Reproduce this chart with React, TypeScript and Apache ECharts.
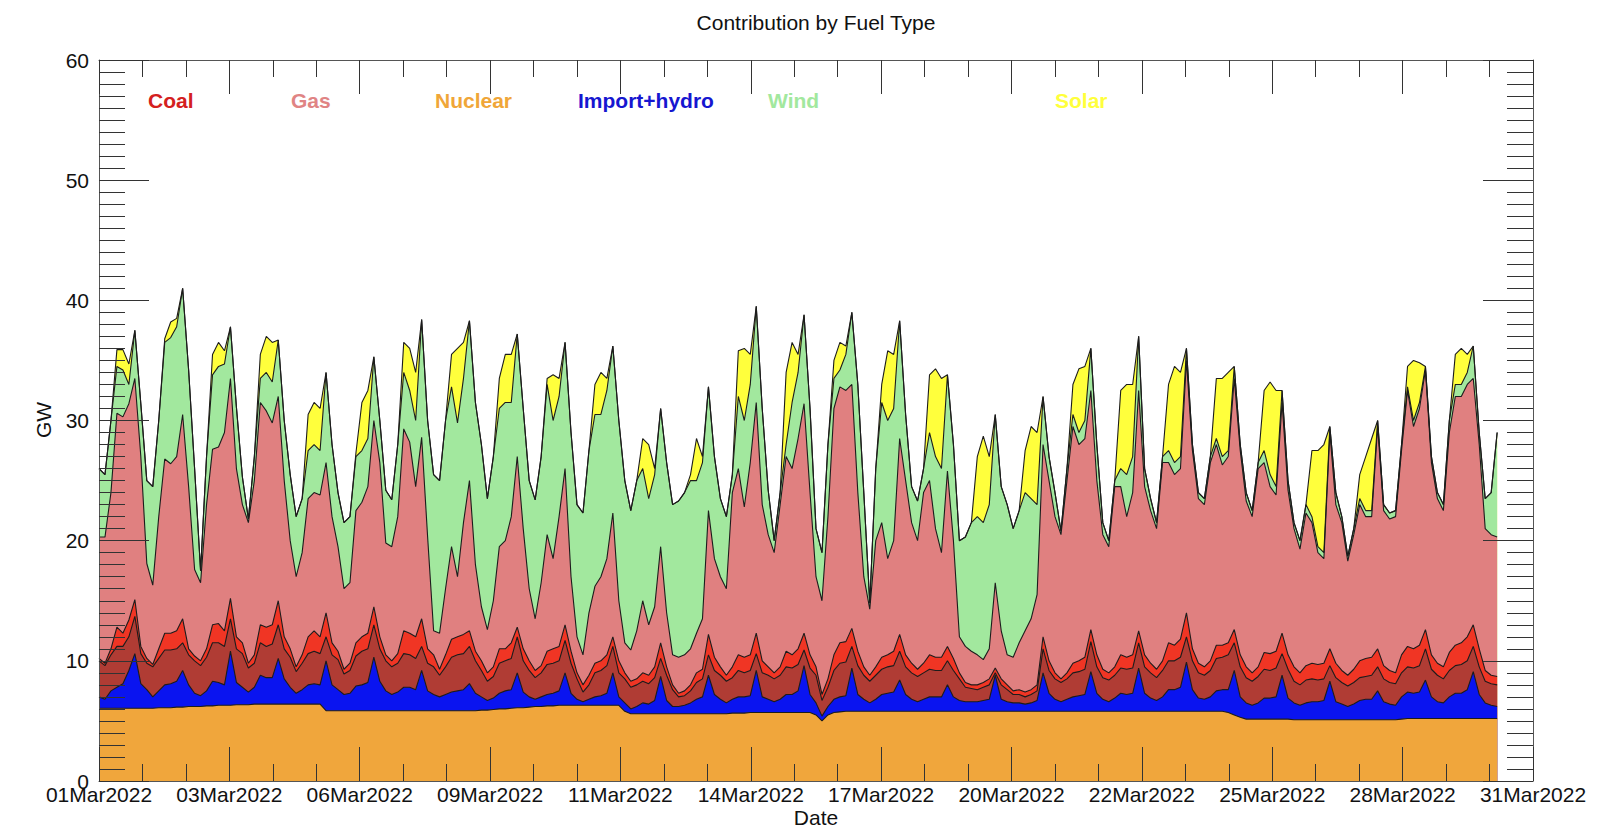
import { useEffect, useRef } from "react";
import * as echarts from "echarts";

// samples every 3 hours from 01Mar2022 00:00 (x in days)
const STEP_DAYS = 0.125;

// cumulative tops of each layer, GW (one row = one day, 00h..21h)
const nuclearTop = [
  6.05, 6.05, 6.05, 6.05, 6.05, 6.05, 6.05, 6.05,
  6.05, 6.05, 6.1, 6.1, 6.1, 6.15, 6.15, 6.2,
  6.2, 6.2, 6.25, 6.25, 6.3, 6.3, 6.3, 6.35,
  6.35, 6.35, 6.4, 6.4, 6.4, 6.4, 6.4, 6.4,
  6.4, 6.4, 6.4, 6.4, 6.4, 6.4, 5.85, 5.85,
  5.85, 5.85, 5.85, 5.85, 5.85, 5.85, 5.85, 5.85,
  5.85, 5.85, 5.85, 5.85, 5.85, 5.85, 5.85, 5.85,
  5.85, 5.85, 5.85, 5.85, 5.85, 5.85, 5.85, 5.85,
  5.9, 5.9, 5.95, 6.0, 6.0, 6.05, 6.1, 6.1,
  6.15, 6.2, 6.2, 6.25, 6.25, 6.3, 6.3, 6.3,
  6.3, 6.3, 6.3, 6.3, 6.3, 6.3, 6.3, 6.3,
  5.8, 5.6, 5.6, 5.6, 5.6, 5.6, 5.6, 5.6,
  5.6, 5.6, 5.6, 5.6, 5.6, 5.6, 5.6, 5.6,
  5.6, 5.6, 5.65, 5.65, 5.65, 5.7, 5.7, 5.7,
  5.7, 5.7, 5.7, 5.7, 5.7, 5.7, 5.7, 5.7,
  5.5, 5.0, 5.5, 5.7, 5.75, 5.8, 5.8, 5.8,
  5.8, 5.8, 5.8, 5.8, 5.8, 5.8, 5.8, 5.8,
  5.8, 5.8, 5.8, 5.8, 5.8, 5.8, 5.8, 5.8,
  5.8, 5.8, 5.8, 5.8, 5.8, 5.8, 5.8, 5.8,
  5.8, 5.8, 5.8, 5.8, 5.8, 5.8, 5.8, 5.8,
  5.8, 5.8, 5.8, 5.8, 5.8, 5.8, 5.8, 5.8,
  5.8, 5.8, 5.8, 5.8, 5.8, 5.8, 5.8, 5.8,
  5.8, 5.8, 5.8, 5.8, 5.8, 5.8, 5.8, 5.8,
  5.8, 5.8, 5.8, 5.8, 5.8, 5.7, 5.5, 5.3,
  5.15, 5.15, 5.15, 5.15, 5.15, 5.15, 5.15, 5.15,
  5.1, 5.1, 5.1, 5.1, 5.1, 5.1, 5.1, 5.1,
  5.1, 5.1, 5.1, 5.1, 5.1, 5.1, 5.1, 5.1,
  5.1, 5.1, 5.15, 5.2, 5.2, 5.2, 5.2, 5.2,
  5.2, 5.2, 5.2, 5.2, 5.2, 5.2, 5.2, 5.2,
  5.2, 5.2, 5.2,
];

const importTop = [
  7.0, 6.8, 7.5, 7.8, 8.1, 9.2, 10.6, 8.1,
  7.6, 7.0, 7.5, 8.0, 8.1, 8.3, 9.2, 8.0,
  7.3, 7.1, 7.5, 8.3, 8.2, 8.0, 10.8, 8.2,
  7.8, 7.4, 7.8, 8.8, 8.6, 8.6, 10.2, 8.5,
  7.8, 7.3, 7.6, 8.0, 8.1, 8.0, 10.0, 8.0,
  7.6, 7.2, 7.3, 7.9, 8.0, 8.2, 10.3, 8.3,
  7.5, 7.2, 7.4, 7.8, 7.8, 7.6, 9.2, 7.5,
  7.2, 7.0, 7.2, 7.4, 7.5, 7.6, 8.1, 7.3,
  7.0, 6.7, 6.9, 7.3, 7.5, 7.6, 9.0, 7.4,
  7.0, 6.8, 7.0, 7.2, 7.3, 7.5, 9.0, 7.3,
  6.8, 6.6, 6.8, 7.0, 7.1, 7.3, 9.0, 7.0,
  6.5, 6.0, 6.2, 6.5, 6.4, 6.7, 8.7, 6.7,
  6.2, 6.2, 6.3, 6.5, 6.8, 7.0, 8.8, 7.2,
  6.8, 6.5, 6.8, 7.0, 7.0, 7.1, 9.2, 7.0,
  6.8, 6.6, 6.8, 7.2, 7.2, 7.5, 9.6, 7.2,
  6.5, 5.4, 6.2, 6.8, 7.0, 7.1, 9.4, 7.2,
  6.8, 6.5, 6.8, 7.2, 7.3, 7.4, 8.4, 7.2,
  6.8, 6.6, 6.8, 7.0, 7.0, 7.0, 8.0, 7.0,
  6.7, 6.6, 6.6, 6.6, 6.7, 6.8, 8.8, 6.8,
  6.6, 6.5, 6.5, 6.4, 6.5, 6.7, 9.0, 7.3,
  6.8, 6.6, 6.8, 7.0, 7.1, 7.2, 9.1, 7.3,
  6.8, 6.6, 6.9, 7.3, 7.2, 7.3, 9.4, 7.3,
  6.9, 6.7, 7.0, 7.6, 7.6, 7.8, 9.9, 7.6,
  6.9, 6.8, 7.0, 7.5, 7.6, 7.6, 9.2, 7.0,
  6.5, 6.3, 6.5, 6.9, 6.9, 7.0, 8.8, 6.9,
  6.5, 6.3, 6.5, 6.6, 6.6, 6.7, 8.3, 6.6,
  6.4, 6.2, 6.4, 6.7, 6.8, 6.8, 7.5, 6.6,
  6.4, 6.3, 7.0, 7.4, 7.3, 7.4, 8.4, 7.0,
  6.6, 6.5, 7.0, 7.3, 7.3, 7.6, 9.1, 7.2,
  6.5, 6.3, 6.2,
];

const biomassTop = [
  10.0, 9.6, 10.5, 11.2, 11.2, 12.0, 13.7, 10.6,
  9.8, 9.5, 10.2, 10.9, 10.9, 11.0, 11.5, 10.5,
  10.0, 9.6, 10.3, 11.5, 11.5, 11.2, 13.5, 11.0,
  10.6, 9.4, 9.8, 11.5, 11.2, 11.4, 13.0, 11.0,
  10.3, 9.1, 9.8, 10.6, 10.8, 10.6, 12.0, 10.5,
  10.1, 8.9, 9.2, 10.4, 10.8, 11.0, 13.0, 11.0,
  10.0, 9.5, 9.8, 10.6, 10.5, 10.2, 11.2, 9.8,
  9.5, 8.8, 9.5, 10.3, 10.5, 10.6, 11.2, 10.0,
  9.2, 8.3, 8.7, 9.8, 10.0, 10.2, 12.0, 10.0,
  9.2, 8.6, 9.0, 9.7, 9.8, 10.0, 11.7, 9.8,
  8.5, 7.4, 8.0, 9.0, 9.2, 9.6, 11.2, 9.0,
  8.5, 7.8, 8.0, 8.3, 8.1, 8.6, 10.2, 8.8,
  7.6, 7.0, 7.1, 7.5, 8.2, 8.5, 10.5, 9.2,
  8.8, 8.3, 8.6, 9.2, 9.0, 9.2, 10.6, 9.0,
  8.8, 8.5, 8.8, 9.5, 9.4, 9.7, 10.9, 9.4,
  8.8, 6.7, 7.8, 9.2, 9.8, 9.9, 11.2, 9.6,
  8.8, 8.3, 8.8, 9.3, 9.5, 9.6, 10.8, 9.5,
  9.0, 8.7, 9.0, 9.3, 9.2, 9.2, 10.0, 9.2,
  8.5, 7.8, 7.7, 7.6, 7.8, 8.0, 9.0, 8.0,
  7.6, 7.2, 7.2, 7.0, 7.2, 7.5, 11.0, 9.2,
  8.5, 8.2, 8.5, 9.0, 9.1, 9.3, 11.6, 9.5,
  8.6, 8.4, 8.8, 9.4, 9.3, 9.4, 11.5, 9.5,
  9.0, 8.6, 9.2, 10.0, 10.0, 10.3, 12.0, 10.0,
  9.0, 8.8, 9.2, 10.2, 10.3, 10.5, 11.5, 9.5,
  8.6, 8.3, 8.7, 9.3, 9.2, 9.4, 10.6, 9.3,
  8.3, 8.0, 8.4, 8.5, 8.4, 8.5, 9.6, 8.6,
  8.2, 7.9, 8.2, 8.6, 8.7, 8.8, 9.5, 8.5,
  8.2, 8.1, 9.0, 9.5, 9.4, 9.6, 11.0, 9.3,
  8.8, 8.5, 9.2, 9.6, 9.7, 10.0, 11.2, 9.5,
  8.3, 8.1, 8.0,
];

const coalTop = [
  10.2, 9.8, 11.0, 12.8, 12.3, 13.4, 15.1, 11.2,
  10.2, 9.7, 11.0, 12.3, 12.3, 12.5, 13.5, 11.0,
  10.4, 10.0, 11.0, 13.0, 13.1, 12.5, 15.2, 12.0,
  11.5, 9.8, 10.5, 13.0, 12.8, 13.0, 15.0, 12.0,
  11.0, 9.5, 10.5, 12.0, 12.5, 12.0, 14.0, 11.5,
  10.8, 9.3, 9.8, 11.5, 12.0, 12.3, 14.5, 12.0,
  10.5, 10.0, 10.6, 12.5, 12.3, 12.0, 13.5, 11.0,
  10.5, 9.3, 10.5, 11.8, 12.0, 12.2, 12.5, 10.8,
  10.0, 9.0, 9.5, 11.0, 11.0, 11.5, 12.8, 11.0,
  10.0, 9.2, 9.6, 10.8, 11.0, 11.2, 13.0, 10.8,
  9.0, 8.0, 8.8, 9.8, 10.0, 10.5, 12.0, 10.0,
  9.0, 8.3, 8.5, 9.0, 8.8, 9.5, 11.5, 9.5,
  8.0, 7.3, 7.5, 8.0, 9.0, 9.3, 12.2, 10.3,
  9.5, 8.8, 9.5, 10.5, 10.3, 10.5, 12.3, 10.0,
  9.5, 9.0, 9.5, 10.8, 10.5, 11.0, 12.3, 10.5,
  9.5, 7.2, 8.5, 10.5, 11.5, 11.6, 12.7, 10.8,
  9.5, 8.8, 9.5, 10.3, 10.5, 10.8, 12.2, 10.5,
  9.8, 9.3, 9.8, 10.5, 10.3, 10.3, 11.2, 10.2,
  9.0, 8.2, 8.0, 8.0, 8.2, 8.5, 9.4, 8.5,
  8.0, 7.5, 7.6, 7.4, 7.6, 8.0, 12.0, 10.0,
  9.0, 8.5, 9.0, 9.8, 10.0, 10.3, 12.6, 10.5,
  9.3, 9.0, 9.5, 10.5, 10.3, 10.5, 12.5, 10.5,
  9.8, 9.3, 10.0, 11.5, 11.3, 11.8, 14.0, 11.0,
  9.8, 9.5, 10.0, 11.3, 11.3, 11.5, 12.6, 10.5,
  9.5, 9.0, 9.5, 10.7, 10.6, 10.8, 12.3, 10.5,
  9.5, 9.0, 9.6, 9.8, 9.7, 9.8, 11.0, 9.8,
  9.2, 8.8, 9.3, 10.0, 10.2, 10.3, 11.0, 9.6,
  9.2, 9.0, 10.5, 11.2, 11.0, 11.3, 12.6, 10.5,
  9.8, 9.5, 10.7, 11.3, 11.5, 12.0, 13.0, 11.0,
  9.2, 8.8, 8.7,
];

const gasTop = [
  20.3, 20.3, 24.0, 30.6, 30.3, 31.4, 33.5, 27.0,
  18.1, 16.3, 22.0, 26.8, 26.4, 27.0, 30.5, 24.5,
  17.6, 16.5, 23.0, 27.6, 27.8, 29.0, 33.5, 26.0,
  23.0, 21.5, 25.0, 31.5, 30.8, 29.8, 32.0, 25.0,
  20.0, 17.0, 19.0, 23.5, 24.0, 23.8, 26.5, 22.0,
  19.5, 16.0, 16.5, 22.5, 23.2, 24.5, 30.0, 26.5,
  19.8, 19.5, 22.0, 29.3, 28.2, 24.5, 28.6, 20.3,
  12.5, 12.3, 16.0, 19.5, 17.0, 21.5, 25.0, 18.0,
  14.5, 12.6, 15.0, 19.5, 20.0, 22.0, 27.0, 21.0,
  16.0, 13.5, 16.5, 20.5, 18.5, 22.0, 26.0, 17.0,
  12.0, 10.5, 14.0, 16.2, 17.0, 18.5, 22.3, 15.0,
  11.5, 10.9, 12.5, 15.0, 13.0, 14.5, 19.5, 14.0,
  10.5, 10.3, 10.5, 11.0, 12.3, 13.5, 22.5, 18.5,
  17.0, 16.0, 24.0, 26.0, 22.8, 26.5, 31.5, 23.0,
  20.5, 19.0, 23.0, 27.0, 26.0, 28.5, 31.4, 24.0,
  17.0, 15.0, 22.0, 31.0, 32.8, 32.5, 33.0, 24.0,
  17.0, 14.3, 20.0, 21.5, 18.5, 20.0, 28.5, 25.0,
  21.5, 20.0, 24.0, 25.0, 21.0, 19.0, 25.8, 20.0,
  12.0, 11.2, 10.8, 10.5, 10.1, 11.0, 16.5, 12.5,
  10.5, 10.3, 11.5, 12.5, 13.5, 15.5, 28.0, 25.0,
  22.0, 20.5, 25.0, 29.5, 28.0, 28.5, 32.5, 25.0,
  20.5, 19.5, 24.5, 24.5, 22.0, 24.0, 32.5, 24.5,
  22.5, 21.0, 26.5, 26.5, 25.5, 26.0, 35.0, 27.5,
  23.5, 23.0, 26.5, 28.0, 26.3, 27.0, 33.5, 27.5,
  23.3, 22.0, 26.0, 26.5, 24.5, 23.8, 31.5, 24.2,
  21.0, 19.3, 22.3, 21.5, 19.0, 18.5, 29.0, 23.0,
  21.5, 18.3, 20.5, 23.0, 22.0, 22.0, 29.5, 22.5,
  21.8, 22.0, 27.5, 32.5, 29.5, 31.0, 34.2, 26.5,
  23.5, 22.5, 29.0, 32.0, 32.0, 33.0, 33.5, 28.0,
  21.0, 20.5, 20.3,
];

const windTop = [
  26.0, 25.5, 30.0, 34.5, 34.2, 33.0, 37.5, 31.4,
  25.0, 24.5, 30.0, 36.5, 36.9, 37.8, 41.0, 34.2,
  26.0, 17.5, 27.0, 33.8, 34.5, 34.7, 37.8, 31.1,
  25.3, 21.8, 27.0, 33.5, 34.0, 33.2, 36.7, 30.0,
  25.5, 22.0, 23.5, 27.5, 28.0, 27.5, 34.0, 28.0,
  24.0, 21.5, 22.0, 27.0, 27.5, 28.5, 35.3, 30.0,
  24.2, 23.4, 28.0, 34.0, 32.5, 30.0, 38.4, 30.0,
  25.5, 25.0, 30.0, 32.8, 29.8, 33.5, 38.3, 31.5,
  28.0, 23.5, 27.0, 31.0, 31.5, 31.5, 37.2, 31.0,
  25.0, 23.4, 27.0, 33.0, 30.0, 32.0, 36.5, 29.0,
  23.0, 22.3, 27.5, 30.5, 30.5, 32.5, 36.2, 30.0,
  25.0, 22.5, 25.0, 26.0, 23.5, 25.5, 31.0, 26.5,
  23.0, 23.3, 24.0, 25.0, 25.0, 26.5, 32.8, 27.0,
  23.5, 22.0, 25.5, 32.0, 30.0, 33.0, 39.5, 31.0,
  24.2, 20.0, 24.0, 28.0, 31.5, 34.0, 38.8, 31.0,
  21.0, 19.0, 28.0, 33.5, 34.2, 35.5, 39.0, 33.0,
  24.0, 14.8, 26.0, 31.5, 30.0, 31.0, 38.3, 30.5,
  24.5, 23.3, 26.0, 29.0, 27.0, 26.0, 33.8, 28.0,
  20.0, 20.3, 21.5, 22.0, 21.5, 23.0, 30.5, 24.5,
  23.0, 21.0, 22.5, 24.0, 23.5, 23.0, 32.0, 27.0,
  24.0, 20.8, 26.0, 30.5, 29.0, 30.0, 36.0, 28.0,
  21.5, 20.0, 25.0, 26.0, 25.5, 27.0, 37.0, 26.0,
  23.5, 21.5, 27.0, 27.5, 26.5, 27.0, 36.0, 28.0,
  24.0, 23.5, 27.0, 28.5, 27.0, 27.5, 34.5, 28.0,
  24.0, 22.5, 26.5, 27.5, 25.5, 24.5, 32.5, 25.0,
  21.5, 20.0, 23.0, 22.0, 19.5, 19.0, 29.5, 24.0,
  22.0, 18.7, 21.0, 23.5, 22.5, 22.5, 30.0, 23.0,
  22.3, 22.5, 28.0, 32.8, 30.0, 31.5, 34.5, 27.0,
  24.0, 23.0, 30.0, 33.0, 33.0, 34.0, 36.2, 29.0,
  23.5, 24.0, 29.0,
];

const solarTop = [
  26.0, 25.5, 30.0, 35.9, 35.9, 34.7, 37.5, 31.4,
  25.0, 24.5, 30.0, 36.8, 38.2, 38.5, 41.0, 34.2,
  26.0, 17.5, 27.0, 35.5, 36.5, 35.8, 37.8, 31.1,
  25.3, 21.8, 27.0, 35.5, 37.0, 36.5, 36.7, 30.0,
  25.5, 22.0, 23.5, 30.5, 31.5, 31.0, 34.0, 28.0,
  24.0, 21.5, 22.0, 27.3, 31.5, 32.5, 35.3, 30.0,
  24.2, 23.4, 28.0, 36.5, 36.0, 34.0, 38.4, 30.0,
  25.5, 25.0, 30.0, 35.5, 36.0, 36.5, 38.3, 31.5,
  28.0, 23.5, 27.0, 33.5, 35.5, 35.5, 37.2, 31.0,
  25.0, 23.4, 27.0, 33.5, 33.8, 33.5, 36.5, 29.0,
  23.0, 22.3, 27.5, 33.0, 34.0, 33.5, 36.2, 30.0,
  25.0, 22.5, 25.0, 28.5, 28.0, 26.0, 31.0, 26.5,
  23.0, 23.3, 24.0, 25.5, 28.5, 27.0, 32.8, 27.0,
  23.5, 22.0, 25.5, 35.8, 36.0, 35.5, 39.5, 31.0,
  24.2, 20.0, 24.0, 34.0, 36.5, 35.5, 38.8, 31.0,
  21.0, 19.0, 28.0, 35.0, 36.5, 36.2, 39.0, 33.0,
  24.0, 14.8, 26.0, 33.0, 35.8, 35.5, 38.3, 30.5,
  24.5, 23.3, 26.0, 33.8, 34.3, 33.5, 33.8, 28.0,
  20.0, 20.3, 21.5, 27.0, 28.7, 27.0, 30.5, 24.5,
  23.0, 21.0, 22.5, 27.5, 29.5, 29.0, 32.0, 27.0,
  24.0, 20.8, 26.0, 33.0, 34.3, 34.5, 36.0, 28.0,
  21.5, 20.0, 25.0, 32.5, 33.0, 33.0, 37.0, 26.0,
  23.5, 21.5, 27.0, 33.0, 34.5, 34.0, 36.0, 28.0,
  24.0, 23.5, 27.0, 33.5, 33.5, 34.0, 34.5, 28.0,
  24.0, 22.5, 26.5, 32.5, 33.2, 32.5, 32.5, 25.0,
  21.5, 20.0, 23.0, 27.5, 27.5, 28.0, 29.5, 24.0,
  22.0, 18.7, 21.0, 25.5, 27.0, 28.5, 30.0, 23.0,
  22.3, 22.5, 28.0, 34.5, 35.0, 34.8, 34.5, 27.0,
  24.0, 23.0, 30.0, 35.5, 36.0, 35.5, 36.2, 29.0,
  23.5, 24.0, 29.0,
];

// drawn from the tallest boundary down, each filled to zero
const layers = [
  { name: "Solar", data: solarTop, color: "#ffff3c" },
  { name: "Wind", data: windTop, color: "#a2e89e" },
  { name: "Gas", data: gasTop, color: "#e08080" },
  { name: "Coal", data: coalTop, color: "#f03524" },
  { name: "Biomass", data: biomassTop, color: "#b03c34" },
  { name: "Import+hydro", data: importTop, color: "#0a14f0" },
  { name: "Nuclear", data: nuclearTop, color: "#f0a63c" },
];

const legendLabels = [
  { text: "Coal", x: 148, color: "#d42020" },
  { text: "Gas", x: 291, color: "#e08484" },
  { text: "Nuclear", x: 435, color: "#f0a638" },
  { text: "Import+hydro", x: 578, color: "#1616d0" },
  { text: "Wind", x: 768, color: "#a2e89e" },
  { text: "Solar", x: 1055, color: "#ffff3c" },
];

const FONT = "'Liberation Sans', Arial, Helvetica, sans-serif";
const TICK_COLOR = "#333";
const FRAME_COLOR = "#555";

function dateLabel(v: number): string {
  const d = Math.floor(v + 1e-6) + 1;
  return (d < 10 ? "0" : "") + d + "Mar2022";
}

export default function App() {
  const ref = useRef<HTMLDivElement>(null);

  useEffect(() => {
    if (!ref.current) return;
    const chart = echarts.init(ref.current, null, { renderer: "svg" });

    const xBase = {
      type: "value",
      min: 0,
      max: 30,
      interval: 30 / 11,
      z: 10,
      axisLine: { show: true, onZero: false, lineStyle: { color: FRAME_COLOR, width: 1 } },
      axisTick: { show: true, inside: true, length: 34, lineStyle: { color: TICK_COLOR, width: 1 } },
      minorTick: { show: true, splitNumber: 3, length: 17, lineStyle: { color: TICK_COLOR, width: 1 } },
      splitLine: { show: false },
    };
    const yBase = {
      type: "value",
      min: 0,
      max: 60,
      interval: 10,
      z: 10,
      axisLine: { show: true, onZero: false, lineStyle: { color: FRAME_COLOR, width: 1 } },
      axisTick: { show: true, inside: true, length: 50, lineStyle: { color: TICK_COLOR, width: 1 } },
      minorTick: { show: true, splitNumber: 10, length: 26, lineStyle: { color: TICK_COLOR, width: 1 } },
      splitLine: { show: false },
    };

    chart.setOption({
      animation: false,
      backgroundColor: "#ffffff",
      grid: { left: 99, top: 60, width: 1434, height: 721, containLabel: false },
      xAxis: [
        {
          ...xBase,
          position: "bottom",
          axisLabel: {
            show: true,
            margin: 3,
            formatter: dateLabel,
            color: "#111",
            fontFamily: FONT,
            fontSize: 21,
          },
        },
        { ...xBase, position: "top", axisLabel: { show: false } },
      ],
      yAxis: [
        {
          ...yBase,
          position: "left",
          axisLabel: { show: true, margin: 10, color: "#111", fontFamily: FONT, fontSize: 21 },
        },
        { ...yBase, position: "right", axisLabel: { show: false } },
      ],
      graphic: [
        {
          type: "text",
          x: 816,
          y: 22,
          style: {
            text: "Contribution by Fuel Type",
            fill: "#111",
            font: `21px ${FONT}`,
            align: "center",
            verticalAlign: "middle",
          },
        },
        {
          type: "text",
          x: 816,
          y: 817,
          style: { text: "Date", fill: "#111", font: `21px ${FONT}`, align: "center", verticalAlign: "middle" },
        },
        {
          type: "text",
          x: 43,
          y: 420,
          rotation: Math.PI / 2,
          style: { text: "GW", fill: "#111", font: `21px ${FONT}`, align: "center", verticalAlign: "middle" },
        },
        ...legendLabels.map((l) => ({
          type: "text",
          x: l.x,
          y: 100,
          z: 20,
          style: {
            text: l.text,
            fill: l.color,
            font: `bold 21px ${FONT}`,
            align: "left",
            verticalAlign: "middle",
          },
        })),
      ],
      series: layers.map((layer) => ({
        name: layer.name,
        type: "line",
        xAxisIndex: 0,
        yAxisIndex: 0,
        silent: true,
        showSymbol: false,
        symbol: "none",
        z: 2,
        data: layer.data.map((v, i) => [i * STEP_DAYS, v]),
        lineStyle: { color: "#1c1c1c", width: 1.1 },
        itemStyle: { color: layer.color },
        areaStyle: { color: layer.color, opacity: 1 },
      })),
    });

    return () => chart.dispose();
  }, []);

  return (
    <div
      ref={ref}
      style={{ position: "absolute", left: 0, top: 0, width: 1600, height: 839 }}
    />
  );
}
